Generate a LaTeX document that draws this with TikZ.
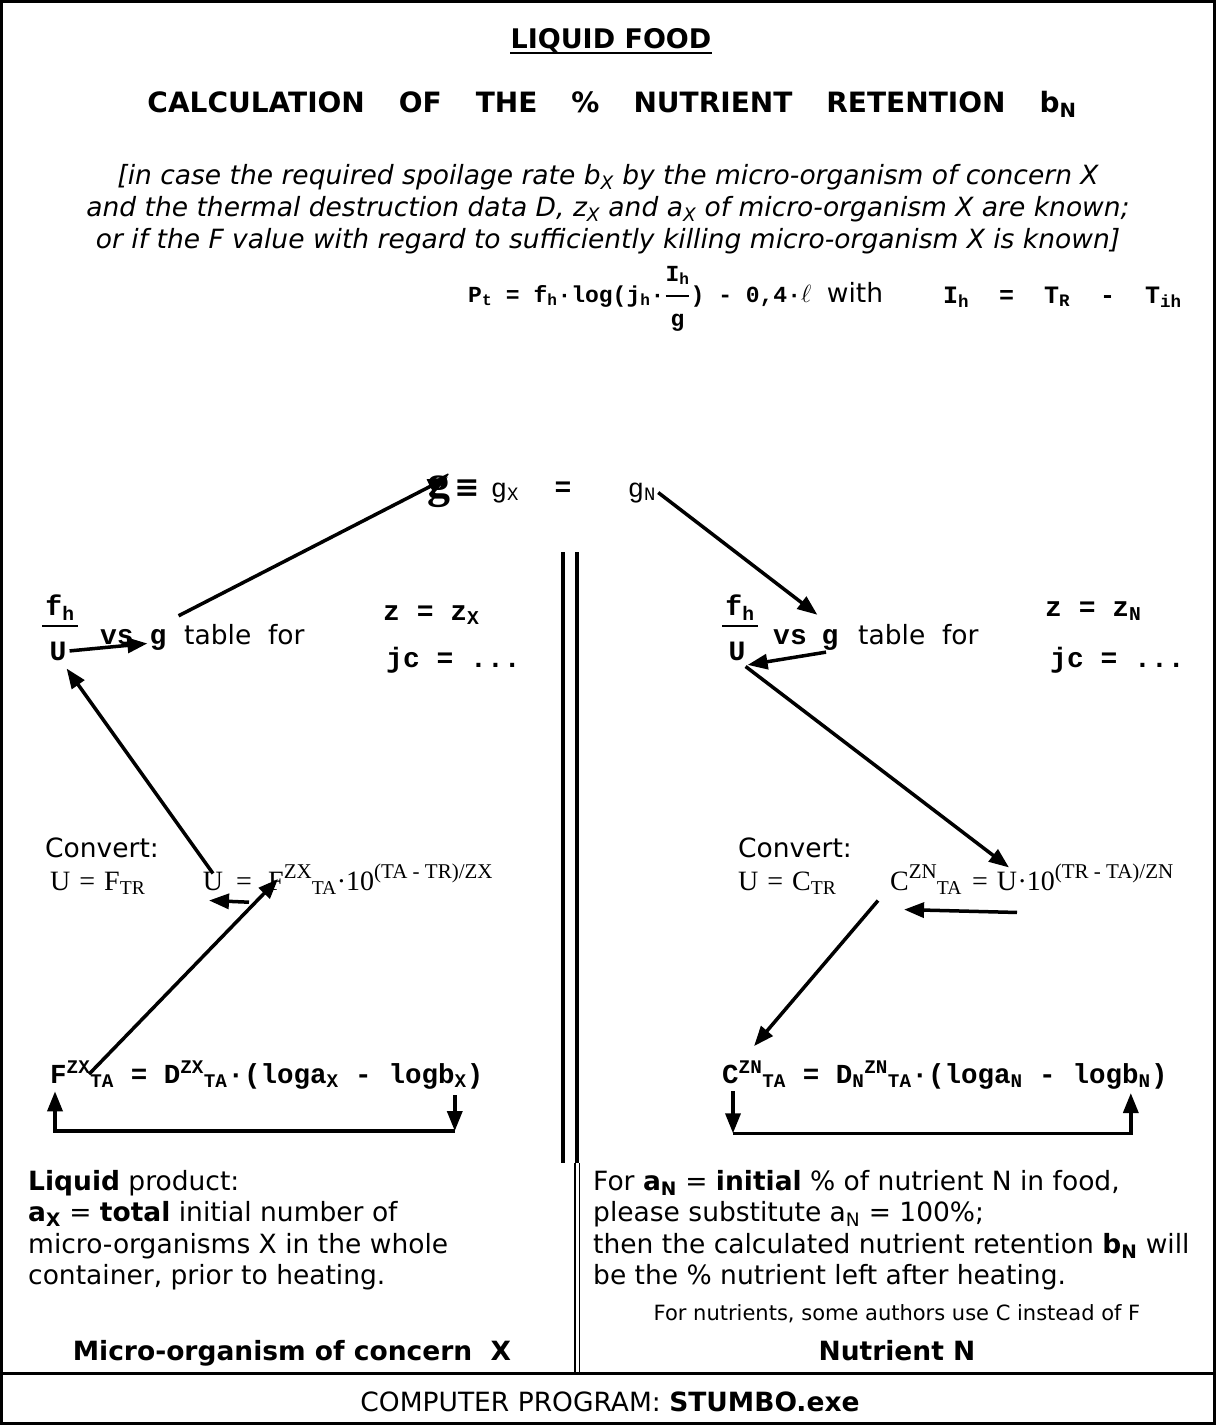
\documentclass[tikz,border=0pt]{standalone}
\usepackage{fontspec}
\usepackage{amsmath}
\setmainfont{DejaVu Sans}
\newfontfamily\twf{Liberation Mono}
\newfontfamily\srf{Liberation Serif}
\usetikzlibrary{arrows.meta,calc}
\newcommand\Lo[1]{\textsubscript{#1}}
\newcommand\Hi[1]{\textsuperscript{#1}}
\newcommand\SHi[1]{\raisebox{0.42em}{\fontsize{21}{21}\selectfont #1}}
\newcommand\gap{\hspace{34pt}}
\tikzset{
  txt/.style={inner sep=0pt, font=\fontsize{26.5}{31.5}\selectfont},
  bld/.style={inner sep=0pt, font=\bfseries\fontsize{26.5}{31.5}\selectfont},
  tw/.style={inner sep=0pt, font=\twf\bfseries\fontsize{28}{30}\selectfont},
  twb/.style={inner sep=0pt, font=\twf\bfseries\fontsize{27.5}{30}\selectfont},
  twl/.style={inner sep=0pt, font=\twf\fontsize{27}{30}\selectfont},
  sr/.style={inner sep=0pt, font=\srf\fontsize{28}{32}\selectfont},
  arr/.style={line width=3.5pt, -{Triangle[length=20pt,width=15pt]}},
  bar/.style={line width=2pt},
}
\begin{document}
\begin{tikzpicture}[x=1pt,y=-1pt]
\useasboundingbox (0,0) rectangle (1216,1425);
\draw[line width=3pt] (1.5,1.5) rectangle (1214.5,1423.5);

% header
\node[bld, font=\bfseries\fontsize{27}{30}\selectfont, anchor=base] (title) at (611,48) {LIQUID FOOD};
\draw[bar] ($(title.base west)+(0,5)$) -- ($(title.base east)+(0,5)$);
\node[bld, font=\bfseries\fontsize{28}{31.5}\selectfont, anchor=base] (calc) at (612,112) {CALCULATION\gap OF\gap THE\gap \%\gap NUTRIENT\gap RETENTION\gap b\Lo{N}};
\node[txt, font=\itshape\fontsize{26.5}{32}\selectfont, anchor=north, align=center] (cond) at (608,164) {[in case the required spoilage rate b\Lo{X} by the micro-organism of concern X\\ and the thermal destruction data D, z\Lo{X} and a\Lo{X} of micro-organism X are known;\\ or if the F value with regard to sufficiently killing micro-organism X is known]};

% formula line
\node[tw, font=\twf\bfseries\fontsize{23}{26}\selectfont, anchor=base west] (Pt) at (468,302) {P\Lo{t} = f\Lo{h}·log(j\Lo{h}·$\genfrac{}{}{1.6pt}{0}{\mbox{I\Lo{h}}\rule[-9pt]{0pt}{9pt}}{\rule{0pt}{25pt}\mbox{g}}$) - 0,4·$\ell$};
\node[txt, anchor=base] (with) at (855,302) {with};
\node[tw, font=\twf\bfseries\fontsize{25}{28}\selectfont, anchor=base west] (Ih) at (943,303) {I\Lo{h}\ \ =\ \ T\Lo{R}\ \ -\ \ T\Lo{ih}};

% g line
\node[inner sep=0pt, font=\srf\bfseries\fontsize{46}{46}\selectfont, anchor=base] (gbig) at (439,497) {g};
\node[inner sep=0pt, font=\bfseries\fontsize{30}{30}\selectfont, anchor=base] (equiv) at (467,497) {≡};
\node[twl, anchor=base] (gX) at (505,497) {g\Lo{X}};
\node[tw, anchor=base] (eqg) at (563,496) {=};
\node[twl, anchor=base] (gN) at (642,497) {g\Lo{N}};

% left table
\node[tw, anchor=base] (fhL) at (60,615) {f\Lo{h}};
\draw[bar] (42,626) -- (78,626);
\node[tw, anchor=base] (UL) at (58,660) {U};
\node[tw, anchor=base] (vsL) at (117,644) {vs};
\node[tw, anchor=base] (gL) at (158,644) {g};
\node[txt, anchor=base west] (tabL) at (184,644) {table\ \ for};
\node[tw, anchor=base west] (zL) at (383,620) {z = z\Lo{X}};
\node[tw, anchor=base west] (jcL) at (386,667) {jc = ...};

% right table
\node[tw, anchor=base] (fhR) at (740,615) {f\Lo{h}};
\draw[bar] (722,626) -- (758,626);
\node[tw, anchor=base] (UR) at (737,660) {U};
\node[tw, anchor=base] (vsR) at (790,644) {vs};
\node[tw, anchor=base] (gR) at (830,644) {g};
\node[txt, anchor=base west] (tabR) at (858,644) {table\ \ for};
\node[tw, anchor=base west] (zR) at (1045,616) {z = z\Lo{N}};
\node[tw, anchor=base west] (jcR) at (1050,667) {jc = ...};

% left convert
\node[txt, anchor=base west] (convL) at (45,857) {Convert:};
\node[sr, anchor=base west] (UFTR) at (50,890) {U\hspace{9pt}=\hspace{9pt}F\Lo{TR}};
\node[sr, anchor=base] (UuL) at (213,890) {U};
\node[sr, anchor=base] (eqU) at (244,890) {=};
\node[sr, anchor=base west] (FZXu) at (268,890) {F\SHi{ZX}\Lo{TA}·10\SHi{(TA - TR)/ZX}};

% right convert
\node[txt, anchor=base west] (convR) at (738,857) {Convert:};
\node[sr, anchor=base west] (UCTR) at (738,890) {U\hspace{9pt}=\hspace{9pt}C\Lo{TR}};
\node[sr, anchor=base west] (CZN) at (890,890) {C\SHi{ZN}\Lo{TA}};
\node[sr, anchor=base] (eqR) at (980,890) {=};
\node[sr, anchor=base] (U2R) at (1007,890) {U};
\node[sr, anchor=base west] (tenR) at (U2R.base east) {·10\SHi{(TR - TA)/ZN}};

% bottom formulas
\node[twb, anchor=base west] (FZX) at (50,1083) {F\Hi{ZX}\Lo{TA}};
\node[twb, anchor=base west] (restL) at (FZX.base east) {\ =\ D\Hi{ZX}\Lo{TA}·(loga\Lo{X}\ -};
\node[twb, anchor=base west] (lbX) at (restL.base east) {\ logb\Lo{X}};
\node[twb, anchor=base west] (parL) at (lbX.base east) {)};

\node[twb, anchor=base west] (CZNb) at (722,1083) {C\Hi{ZN}\Lo{TA}};
\node[twb, anchor=base west] (restR) at (CZNb.base east) {\ =\ D\Lo{N}\Hi{ZN}\Lo{TA}·(loga\Lo{N}\ -};
\node[twb, anchor=base west] (lbN) at (restR.base east) {\ logb\Lo{N}};
\node[twb, anchor=base west] (parR) at (lbN.base east) {)};

% arrows
\draw[arr] ($(gL.north east)+(12,-13)$) -- ($(gbig.center)+(9,-13)$);
\draw[arr] ($(gN.east)+(2,0)$) -- ($(gR.north west)+(-4,-14)$);
\draw[arr] ($(UL.east)+(3,0)$) -- ($(gL.west)+(-2,4)$);
\draw[arr] ($(gR.south)+(-4,2)$) -- ($(UR.east)+(2,14)$);
\draw[arr] ($(UR.south east)+(0,6)$) -- ($(U2R.north)+(2,-4)$);
\draw[arr] ($(UuL.north)+(0,2)$) -- ($(UL.south east)+(0,8)$);
\draw[arr] ($(FZX.north)+(7,13)$) -- ($(FZXu.west)+(10,0)$);
\draw[arr] ($(eqU.south)+(5,12)$) -- ($(UuL.south)+(-4,10)$);
\draw[arr] ($(U2R.south)+(10,22)$) -- ($(CZN.south)+(-22,15)$);
\draw[arr] ($(CZN.south west)+(-12,6)$) -- ($(CZNb.north)+(0,-15)$);

% loops
\draw[arr] ($(lbX.south east)+(-12,6)$) -- ++(0,36) coordinate (lpL);
\draw[arr] (lpL) -| ($(FZX.south west)+(5,4)$);
\draw[arr] ($(CZNb.south west)+(11,4)$) -- ++(0,42) coordinate (lpR);
\draw[arr] (lpR) -| ($(lbN.south east)+(-20,4)$);

% separators
\draw[line width=4pt] (563,552) -- (563,1163);
\draw[line width=4pt] (577,552) -- (577,1163);
\draw[line width=1.6pt] (575,1163) -- (575,1373);
\draw[line width=1.6pt] (579.5,1163) -- (579.5,1373);
\draw[line width=3pt] (2,1373) -- (1214,1373);

% bottom texts
\node[txt, anchor=north west, align=left] (liq) at (28,1170) {\textbf{Liquid} product:\\ \textbf{a\Lo{X}} = \textbf{total} initial number of\\ micro-organisms X in the whole\\ container, prior to heating.};
\node[txt, anchor=north west, align=left] (forN) at (593,1170) {For \textbf{a\Lo{N}} = \textbf{initial} \% of nutrient N in food,\\ please substitute a\Lo{N} = 100\%;\\ then the calculated nutrient retention \textbf{b\Lo{N}} will\\ be the \% nutrient left after heating.};
\node[inner sep=0pt, font=\fontsize{21}{24}\selectfont, anchor=base] (note) at (897,1320) {For nutrients, some authors use C instead of F};
\node[bld, anchor=base] (mX) at (292,1360) {Micro-organism of concern\ \ X};
\node[bld, anchor=base] (nN) at (897,1360) {Nutrient N};
\node[txt, anchor=base] (prog) at (610,1411) {COMPUTER PROGRAM: \textbf{STUMBO.exe}};
\end{tikzpicture}
\end{document}
